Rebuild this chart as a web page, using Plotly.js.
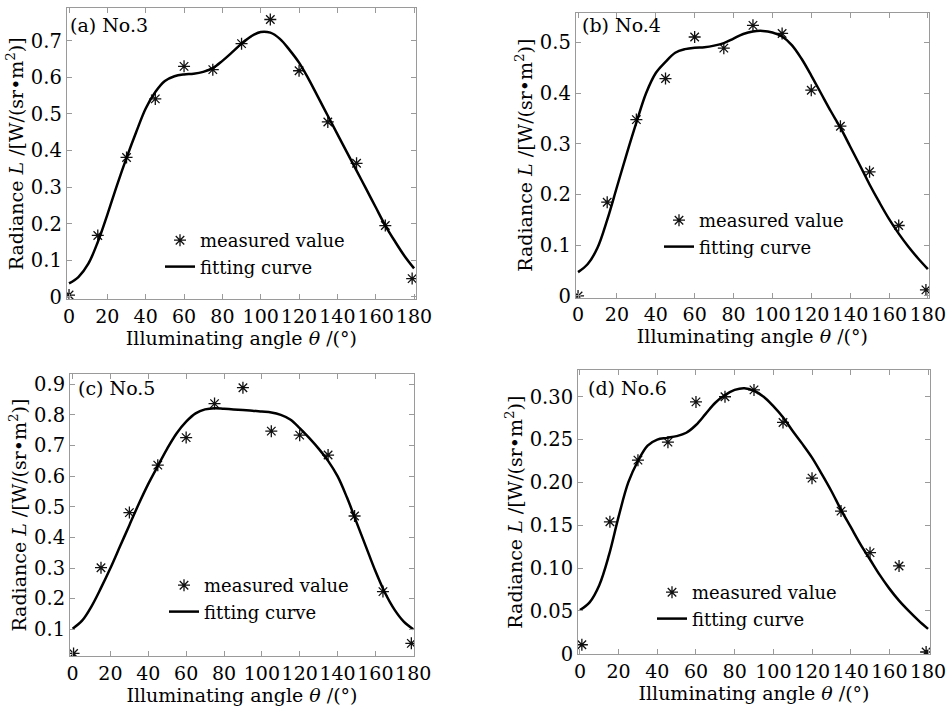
<!DOCTYPE html>
<html>
<head>
<meta charset="utf-8">
<script src="https://cdn.plot.ly/plotly-3.0.1.min.js"></script>
<style>html,body{margin:0;padding:0;background:#fff;}#chart{width:948px;height:712px;}</style>
</head>
<body>
<div id="chart"></div>
<script>
// ---- data ----
const fitAngles = [0,5,10,15,20,25,30,35,40,45,50,55,60,65,70,75,80,85,90,95,100,105,110,115,120,125,130,135,140,145,150,155,160,165,170,175,180];

// (a) No.3
const angA = [0,15,30,45,60,75,90,105,120,135,150,165,179];
const measA = [0.005,0.168,0.381,0.541,0.630,0.621,0.692,0.758,0.618,0.478,0.365,0.195,0.050];
const fitA = [0.037,0.055,0.09,0.15,0.225,0.305,0.38,0.45,0.515,0.56,0.59,0.603,0.608,0.61,0.615,0.625,0.645,0.668,0.692,0.712,0.724,0.722,0.705,0.675,0.64,0.595,0.545,0.495,0.445,0.395,0.345,0.295,0.245,0.195,0.152,0.112,0.078];

// (b) No.4
const angB = [0,15,30,45,60,75,90,105,120,135,150,165,179];
const measB = [0.0,0.185,0.348,0.429,0.511,0.489,0.534,0.518,0.406,0.335,0.245,0.139,0.012];
const fitB = [0.047,0.063,0.095,0.15,0.215,0.28,0.342,0.4,0.44,0.462,0.48,0.487,0.49,0.491,0.494,0.499,0.508,0.517,0.522,0.523,0.52,0.512,0.495,0.468,0.435,0.4,0.365,0.332,0.295,0.258,0.22,0.185,0.152,0.123,0.097,0.074,0.053];

// (c) No.5
const angC = [0.5,15,30,45,60,75,90,105,120,135,149,164,179];
const measC = [0.021,0.301,0.481,0.636,0.726,0.837,0.889,0.747,0.734,0.669,0.470,0.223,0.054];
const fitC = [0.102,0.128,0.175,0.235,0.3,0.37,0.44,0.51,0.575,0.633,0.69,0.74,0.778,0.805,0.818,0.822,0.82,0.818,0.816,0.814,0.811,0.808,0.8,0.785,0.757,0.725,0.69,0.65,0.6,0.53,0.45,0.37,0.29,0.22,0.165,0.125,0.1];

// (d) No.6
const angD = [1,15.5,30,45.5,60,75,90,105,120,135,150,165,179];
const measD = [0.0105,0.154,0.226,0.247,0.294,0.300,0.308,0.270,0.205,0.1665,0.118,0.1025,0.002];
const fitD = [0.051,0.06,0.08,0.115,0.16,0.2,0.225,0.243,0.25,0.252,0.254,0.258,0.267,0.28,0.293,0.302,0.308,0.31,0.307,0.3,0.289,0.276,0.26,0.245,0.229,0.21,0.19,0.168,0.148,0.128,0.11,0.092,0.076,0.062,0.05,0.039,0.029];

const xTicks = [0,20,40,60,80,100,120,140,160,180];
const yTicksA = [0,0.1,0.2,0.3,0.4,0.5,0.6,0.7];
const yTextA = ['0','0.1','0.2','0.3','0.4','0.5','0.6','0.7'];
const yTicksB = [0,0.1,0.2,0.3,0.4,0.5];
const yTextB = ['0','0.1','0.2','0.3','0.4','0.5'];
const yTicksC = [0.1,0.2,0.3,0.4,0.5,0.6,0.7,0.8,0.9];
const yTextC = ['0.1','0.2','0.3','0.4','0.5','0.6','0.7','0.8','0.9'];
const yTicksD = [0,0.05,0.10,0.15,0.20,0.25,0.30];
const yTextD = ['0','0.05','0.10','0.15','0.20','0.25','0.30'];
const panelLabels = ['(a) No.3','(b) No.4','(c) No.5','(d) No.6'];
const measName = 'measured value';
const fitName = 'fitting curve';

// ---- styling ----
const FONT = 'DejaVu Serif, Liberation Serif, serif';
const AX = '#9a9a9a';
const TXT = '#000';
const xTitle = 'Illuminating angle <i>θ</i> /(°)';
const yTitle = 'Radiance <i>L</i> /[W/(sr•m<sup>2</sup>)]';

function mk(angles, vals, xa, ya, lg){
  return {x: angles, y: vals, xaxis: xa, yaxis: ya, legend: lg, name: measName,
    mode: 'markers', type: 'scatter',
    marker: {symbol: 'asterisk-open', size: 10, color: '#111', line: {color: '#111', width: 1.3}}};
}
function ft(vals, xa, ya, lg){
  return {x: fitAngles, y: vals, xaxis: xa, yaxis: ya, legend: lg, name: fitName,
    mode: 'lines', type: 'scatter', line: {shape: 'spline', smoothing: 1, color: '#000', width: 2.5}};
}
const data = [
  mk(angA, measA, 'x', 'y', 'legend'), ft(fitA, 'x', 'y', 'legend'),
  mk(angB, measB, 'x2', 'y2', 'legend2'), ft(fitB, 'x2', 'y2', 'legend2'),
  mk(angC, measC, 'x3', 'y3', 'legend3'), ft(fitC, 'x3', 'y3', 'legend3'),
  mk(angD, measD, 'x4', 'y4', 'legend4'), ft(fitD, 'x4', 'y4', 'legend4')
];

function xax(domain, range, anchor){
  return {domain, range, anchor, tickvals: xTicks, tickangle: 0, showline: true, linecolor: AX, linewidth: 1,
    mirror: 'ticks', ticks: 'inside', ticklen: 5, tickcolor: AX, showgrid: false, zeroline: false,
    tickfont: {family: FONT, size: 19, color: TXT},
    title: {text: xTitle, font: {family: FONT, size: 19, color: TXT}, standoff: 0}};
}
function yax(domain, range, anchor, tv, tt){
  return {domain, range, anchor, tickvals: tv, ticktext: tt, tickangle: 0, showline: true, linecolor: AX, linewidth: 1,
    mirror: 'ticks', ticks: 'inside', ticklen: 5, tickcolor: AX, showgrid: false, zeroline: false,
    tickfont: {family: FONT, size: 19.5, color: TXT},
    title: {text: yTitle, font: {family: FONT, size: 19, color: TXT}, standoff: 2}};
}
function leg(x, y){
  return {x, y, xanchor: 'left', yanchor: 'top', bgcolor: 'rgba(0,0,0,0)', borderwidth: 0,
    itemwidth: 30, tracegroupgap: 0, font: {family: FONT, size: 18, color: TXT}};
}
function lab(text, xr, yr, x, y){
  return {text, xref: xr + ' domain', yref: yr + ' domain', x, y, xanchor: 'left', yanchor: 'middle',
    showarrow: false, font: {family: FONT, size: 19, color: TXT}};
}

const layout = {
  width: 948, height: 712, margin: {l: 0, r: 0, t: 0, b: 0},
  paper_bgcolor: '#fff', plot_bgcolor: '#fff', showlegend: true,
  xaxis: xax([0.0704, 0.4388], [-1.2, 181], 'y'),
  yaxis: yax([0.5796, 0.9883], [-0.0066, 0.7885], 'x', yTicksA, yTextA),
  xaxis2: xax([0.6073, 0.98], [-1.2, 180.6], 'y2'),
  yaxis2: yax([0.5819, 0.9822], [-0.0034, 0.559], 'x2', yTicksB, yTextB),
  xaxis3: xax([0.0738, 0.4367], [-1.4, 180.4], 'y3'),
  yaxis3: yax([0.0787, 0.4743], [0.0128, 0.9327], 'x3', yTicksC, yTextC),
  xaxis4: xax([0.6097, 0.981], [-1.0, 181], 'y4'),
  yaxis4: yax([0.081, 0.4803], [-0.0007, 0.3312], 'x4', yTicksD, yTextD),
  legend: leg(160/948, 1 - 222/712),
  legend2: leg(659/948, 1 - 202/712),
  legend3: leg(164/948, 1 - 567/712),
  legend4: leg(652/948, 1 - 574/712),
  annotations: [
    lab(panelLabels[0], 'x', 'y', 0.004, 0.943),
    lab(panelLabels[1], 'x2', 'y2', 0.011, 0.957),
    lab(panelLabels[2], 'x3', 'y3', 0.017, 0.952),
    lab(panelLabels[3], 'x4', 'y4', 0.023, 0.9356)
  ]
};
Plotly.newPlot('chart', data, layout, {displayModeBar: false, staticPlot: true});
</script>
</body>
</html>
